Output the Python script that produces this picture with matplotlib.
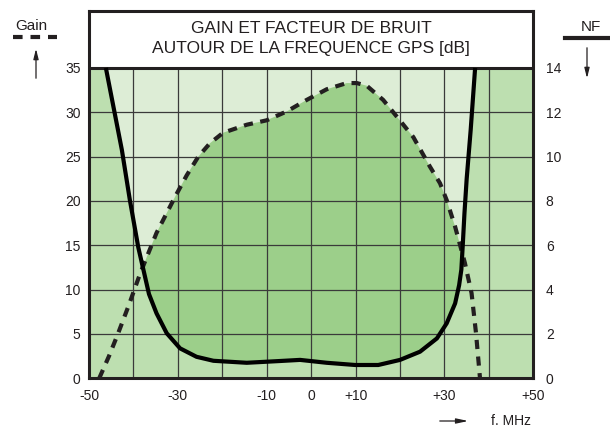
import numpy as np
import matplotlib.pyplot as plt
from matplotlib.lines import Line2D

plt.rcParams['font.family'] = ['Liberation Sans', 'DejaVu Sans']

# ============================================================
# DATA
# ============================================================
# gain curve, dB (left axis)
gain_f = [-47.7, -45.5, -43.5, -41.0, -38.5, -34.8, -30.6, -28.0, -25.4, -22.8,
          -19.8, -14.5, -10.0, -5.5, -1.0, 3.5, 8.0, 10.25, 12.5, 16.2,
          19.3, 23.0, 26.7, 29.0, 30.5, 32.4, 34.6, 36.1, 37.1, 38.0]
gain_db = [0.0, 2.5, 5.0, 8.3, 11.8, 16.4, 20.5, 22.9, 25.0, 26.5,
           27.7, 28.6, 29.1, 30.1, 31.4, 32.6, 33.3, 33.3, 33.0, 31.4,
           29.5, 27.2, 23.9, 22.0, 20.1, 17.1, 13.0, 9.6, 5.1, 0.0]

# noise figure curve, dB (right axis)
nf_f = [-46.2, -44.4, -42.6, -40.8, -38.9, -36.5, -34.8, -32.5, -29.5, -25.8,
        -22.0, -14.5, -7.0, -2.5, 3.5, 9.9, 15.1, 20.0, 24.5, 28.3,
        30.5, 32.4, 33.3, 33.8, 34.1, 34.5, 35.0, 35.9, 36.9]
nf_db = [14.0, 12.15, 10.3, 8.04, 5.9, 3.8, 2.93, 2.03, 1.35, 0.97,
         0.79, 0.70, 0.78, 0.83, 0.70, 0.60, 0.60, 0.83, 1.2, 1.8,
         2.48, 3.38, 4.2, 4.9, 5.94, 7.44, 9.0, 11.2, 14.0]

x_ticks = [-50, -30, -10, 0, 10, 30, 50]
x_labels = ["-50", "-30", "-10", "0", "+10", "+30", "+50"]
gain_ticks = list(range(0, 36, 5))
nf_ticks = list(range(0, 15, 2))

title_lines = ["GAIN ET FACTEUR DE BRUIT", "AUTOUR DE LA FREQUENCE GPS [dB]"]

# ============================================================
# STYLE
# ============================================================
c_mid = "#bddfb0"
c_light = "#ddedd6"
c_dark = "#9ccf8a"
c_frame = "#231f20"
c_grid = "#3a3a3a"

y_top = 41.43          # top of frame in gain units (white title box above 35)
scale = 35 / 14        # gain units per NF unit

fig = plt.figure(figsize=(6.1, 4.29), dpi=100)
ax = fig.add_axes([0.1459, 0.1182, 0.7284, 0.8562])
ax.set_xlim(-50, 50)
ax.set_ylim(0, y_top)

# background fills
ax.fill_between([-50, 50], 0, 35, color=c_mid, lw=0, zorder=0)
nf_patch = ax.fill(nf_f, np.array(nf_db) * scale, color=c_light, lw=0, zorder=0.5)[0]
dark = ax.fill(gain_f, gain_db, color=c_dark, lw=0, zorder=0.6)[0]
dark.set_clip_path(nf_patch)

# grid
ax.vlines(range(-40, 41, 10), 0, 35, color=c_grid, lw=0.9, zorder=1)
ax.hlines(range(5, 35, 5), -50, 50, color=c_grid, lw=0.9, zorder=1)
ax.axhline(35, color=c_frame, lw=2.2, zorder=3)

# curves
ax.plot(gain_f, gain_db, color=c_frame, lw=3, dashes=(2.2, 1.8), zorder=4)

for s in ax.spines.values():
    s.set_linewidth(2.2)
    s.set_color(c_frame)

ax.set_yticks(gain_ticks)
ax.set_xticks(x_ticks)
ax.set_xticklabels(x_labels)
ax.tick_params(length=0, labelsize=10, colors="#231f20")
ax.tick_params(axis='y', pad=6)
ax.tick_params(axis='x', pad=8)

ax2 = ax.twinx()
ax2.set_ylim(0, y_top / scale)
ax2.set_yticks(nf_ticks)
ax2.tick_params(length=0, labelsize=10, pad=9, colors="#231f20")
for s in ax2.spines.values():
    s.set_visible(False)
ax2.plot(nf_f, nf_db, color="black", lw=3, zorder=5, solid_capstyle='butt')

# title box
ax.text(0, 39.5, title_lines[0], ha='center', va='center', fontsize=12.5, color=c_frame)
ax.text(0, 37.15, title_lines[1], ha='center', va='center', fontsize=12.5, color=c_frame)

# ============================================================
# LEGEND MARKS AND AXIS NAMES (figure pixels)
# ============================================================
H = 429
fig.text(31 / 610, 1 - 26 / H, "Gain", ha='center', va='center', fontsize=11, color=c_frame)
fig.add_artist(Line2D([13 / 610, 57 / 610], [1 - 37 / H] * 2, color=c_frame, lw=3,
                      dashes=(2.3, 1.9), transform=fig.transFigure))
ax.annotate("", xy=(36, H - 46), xytext=(36, H - 81), xycoords='figure pixels',
            textcoords='figure pixels',
            arrowprops=dict(arrowstyle='-|>,head_length=0.6,head_width=0.15', color=c_frame, lw=0.9))

fig.text(591 / 610, 1 - 27 / H, "NF", ha='center', va='center', fontsize=11, color=c_frame)
fig.add_artist(Line2D([565 / 610, 610 / 610], [1 - 37.5 / H] * 2, color=c_frame, lw=3,
                      transform=fig.transFigure))
ax.annotate("", xy=(587, H - 81), xytext=(587, H - 45), xycoords='figure pixels',
            textcoords='figure pixels',
            arrowprops=dict(arrowstyle='-|>,head_length=0.6,head_width=0.15', color=c_frame, lw=0.9))

fig.text(491 / 610, 1 - 421 / H, "f. MHz", ha='left', va='center', fontsize=10, color=c_frame)
ax.annotate("", xy=(471, H - 421), xytext=(437, H - 421), xycoords='figure pixels',
            textcoords='figure pixels',
            arrowprops=dict(arrowstyle='-|>,head_length=0.7,head_width=0.15', color=c_frame, lw=0.9))

fig.savefig("out.png", dpi=100)
